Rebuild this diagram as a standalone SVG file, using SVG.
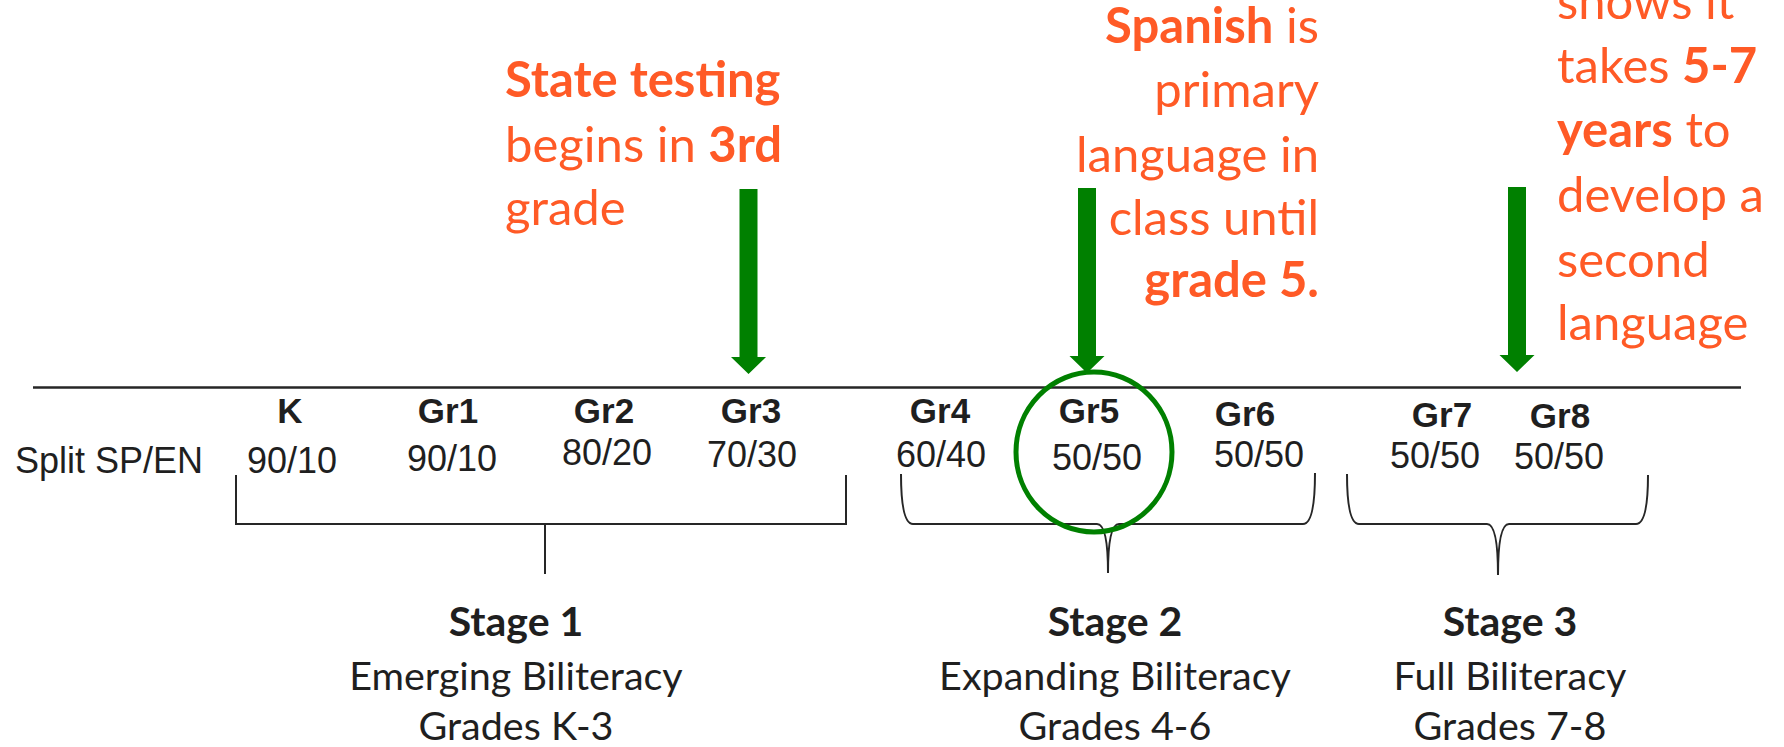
<svg xmlns="http://www.w3.org/2000/svg" width="1784" height="747" viewBox="0 0 1784 747">
<style>
.bg{fill:#ffffff}
.axis{stroke:#262626;stroke-width:2.5;fill:none}
.br{stroke:#262626;stroke-width:2;fill:none}
.gr{font-family:"Liberation Sans",Arial,sans-serif;font-weight:bold;font-size:35px;fill:#1f1f1f;text-anchor:middle}
.val{font-family:"Liberation Sans",Arial,sans-serif;font-size:36px;fill:#1f1f1f;text-anchor:middle}
.lbl{font-family:"Liberation Sans",Arial,sans-serif;font-size:36px;fill:#1f1f1f}
.note{font-family:Lato,"Open Sans",sans-serif;font-size:49px;fill:#ff5a26}
.b{font-weight:bold}
.stage{font-family:Lato,"Open Sans",sans-serif;font-size:39.5px;fill:#1f1f1f;text-anchor:middle}
.stage.b{font-size:41px}
.arrow{fill:#008000}
.ring{fill:none;stroke:#008000;stroke-width:5}
</style>
<defs>
<path id="dnArrow" d="M-9,0 H9 V168 H17.5 L0,185 L-17.5,168 H-9 Z"/>
</defs>
<rect class="bg" x="0" y="0" width="1784" height="747"/>

<g id="connectors">
<line class="axis" x1="33" y1="387.5" x2="1741" y2="387.5"/>
<path id="bracket1" class="br" d="M236,475 V524 H846 V475 M545,524 V574"/>
<path id="bracket2" class="br" d="M901,474 Q901,524 913,524 H1097 Q1108,524 1108,573 Q1108,524 1119,524 H1303 Q1315,524 1315,473"/>
<path id="bracket3" class="br" d="M1347,474 Q1347,524 1359,524 H1487 Q1498,524 1498,575 Q1498,524 1509,524 H1636 Q1648,524 1648,475"/>
<use class="arrow" href="#dnArrow" x="748.5" y="189"/>
<use class="arrow" href="#dnArrow" x="1087" y="188"/>
<use class="arrow" href="#dnArrow" x="1517" y="187"/>
</g>

<g id="row-label"><text class="lbl" x="15" y="473">Split SP/EN</text></g>

<g id="gradeK"><text class="gr" x="290" y="423">K</text><text class="val" x="292" y="473">90/10</text></g>
<g id="grade1"><text class="gr" x="448" y="423">Gr1</text><text class="val" x="452" y="471">90/10</text></g>
<g id="grade2"><text class="gr" x="604" y="423">Gr2</text><text class="val" x="607" y="465">80/20</text></g>
<g id="grade3"><text class="gr" x="751" y="423">Gr3</text><text class="val" x="752" y="467">70/30</text></g>
<g id="grade4"><text class="gr" x="940" y="423">Gr4</text><text class="val" x="941" y="467">60/40</text></g>
<g id="grade5"><text class="gr" x="1089" y="423">Gr5</text><text class="val" x="1097" y="470">50/50</text>
<ellipse class="ring" cx="1094" cy="452" rx="78" ry="80"/></g>
<g id="grade6"><text class="gr" x="1245" y="426">Gr6</text><text class="val" x="1259" y="467">50/50</text></g>
<g id="grade7"><text class="gr" x="1442" y="427">Gr7</text><text class="val" x="1435" y="468">50/50</text></g>
<g id="grade8"><text class="gr" x="1560" y="428">Gr8</text><text class="val" x="1559" y="469">50/50</text></g>

<g id="note-testing">
<text class="note" x="505" y="97"><tspan class="b">State testing</tspan></text>
<text class="note" x="505" y="162">begins in <tspan class="b">3rd</tspan></text>
<text class="note" x="505" y="225">grade</text>
</g>

<g id="note-spanish">
<text class="note" x="1319" y="43" text-anchor="end"><tspan class="b">Spanish</tspan> is</text>
<text class="note" x="1319" y="107" text-anchor="end">primary</text>
<text class="note" x="1319" y="172" text-anchor="end">language in</text>
<text class="note" x="1319" y="235" text-anchor="end">class until</text>
<text class="note" x="1319" y="297" text-anchor="end"><tspan class="b">grade 5.</tspan></text>
</g>

<g id="note-research">
<text class="note" x="1557" y="19">shows it</text>
<text class="note" x="1557" y="83">takes <tspan class="b">5-7</tspan></text>
<text class="note" x="1557" y="147"><tspan class="b">years</tspan> to</text>
<text class="note" x="1557" y="212">develop a</text>
<text class="note" x="1557" y="277">second</text>
<text class="note" x="1557" y="340">language</text>
</g>

<g id="stage1">
<text class="stage b" x="516" y="636">Stage 1</text>
<text class="stage" x="516" y="690">Emerging Biliteracy</text>
<text class="stage" x="516" y="740">Grades K-3</text>
</g>
<g id="stage2">
<text class="stage b" x="1115" y="636">Stage 2</text>
<text class="stage" x="1115" y="690">Expanding Biliteracy</text>
<text class="stage" x="1115" y="740">Grades 4-6</text>
</g>
<g id="stage3">
<text class="stage b" x="1510" y="636">Stage 3</text>
<text class="stage" x="1510" y="690">Full Biliteracy</text>
<text class="stage" x="1510" y="740">Grades 7-8</text>
</g>
</svg>
